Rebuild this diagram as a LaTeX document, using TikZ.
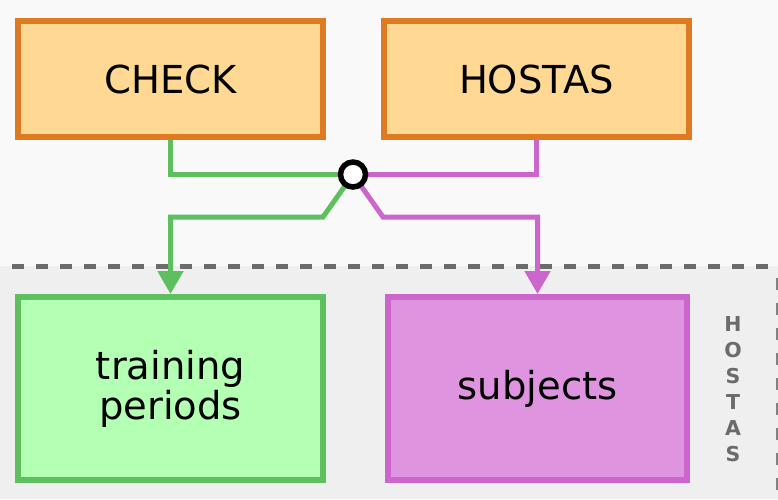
\documentclass[tikz,border=0pt]{standalone}
\usepackage{fontspec}
\setmainfont{DejaVu Sans}
\usetikzlibrary{arrows.meta}

\definecolor{bgtop}{HTML}{F9F9F9}
\definecolor{bgbottom}{HTML}{EFEFEF}
\definecolor{rulegray}{HTML}{6B6B6B}
\definecolor{orangeline}{HTML}{DE7A22}
\definecolor{orangefill}{HTML}{FFD994}
\definecolor{greenline}{HTML}{5DBF5D}
\definecolor{greenfill}{HTML}{B3FFB3}
\definecolor{pinkline}{HTML}{CC66CC}
\definecolor{pinkfill}{HTML}{DE94DE}

\tikzset{
  box/.style={draw, line width=6pt, inner sep=0pt, align=center,
    font=\fontsize{38.5}{40}\selectfont, text=black},
  srcbox/.style={box, draw=orangeline, fill=orangefill,
    minimum width=305pt, minimum height=116pt},
  greenbox/.style={box, draw=greenline, fill=greenfill,
    minimum width=305pt, minimum height=183pt},
  pinkbox/.style={box, draw=pinkline, fill=pinkfill,
    minimum width=299pt, minimum height=183pt},
  link/.style={line width=5pt},
  tip/.style={-{Triangle[length=23pt,width=25pt]}},
  hubdot/.style={circle, draw=black, fill=white, line width=5.5pt,
    minimum size=25pt, inner sep=0pt},
}

\begin{document}
\begin{tikzpicture}[x=1pt, y=-1pt]
  % canvas and the two bands
  \useasboundingbox (0,0) rectangle (778,499);
  \fill[bgtop] (0,0) rectangle (778,266);
  \fill[bgbottom] (0,266) rectangle (778,499);
  \draw[rulegray, line width=5pt, dash pattern=on 12pt off 12pt] (12,266) -- (778,266);
  \draw[rulegray!85, line width=2.5pt, dash pattern=on 12pt off 13pt] (777.5,278) -- (777.5,499);

  % source boxes
  \node[srcbox] (check)  at (170.5,79) {CHECK};
  \node[srcbox] (hostas) at (536.5,79) {HOSTAS};

  % target boxes
  \node[greenbox] (train) at (170.5,388.5) {training\\periods};
  \node[pinkbox]  (subj)  at (537.5,388.5) {subjects};

  % junction
  \coordinate (hubc) at (353,174.5);
  \coordinate (gbend) at (323,217);
  \coordinate (pbend) at (383,217);

  \draw[link, greenline] (check.south) |- (hubc);
  \draw[link, pinkline] (hostas.south) |- (hubc);
  \draw[link, greenline, tip] (hubc) -- (gbend) -| (train.north);
  \draw[link, pinkline, tip] (hubc) -- (pbend) -| (subj.north);

  \node[hubdot] (hub) at (hubc) {};

  % band label
  \node[text=rulegray, font=\fontsize{20.5}{26.1}\selectfont\bfseries, align=center,
    inner sep=0pt] (band) at (733,389) {H\\O\\S\\T\\A\\S};
\end{tikzpicture}
\end{document}
